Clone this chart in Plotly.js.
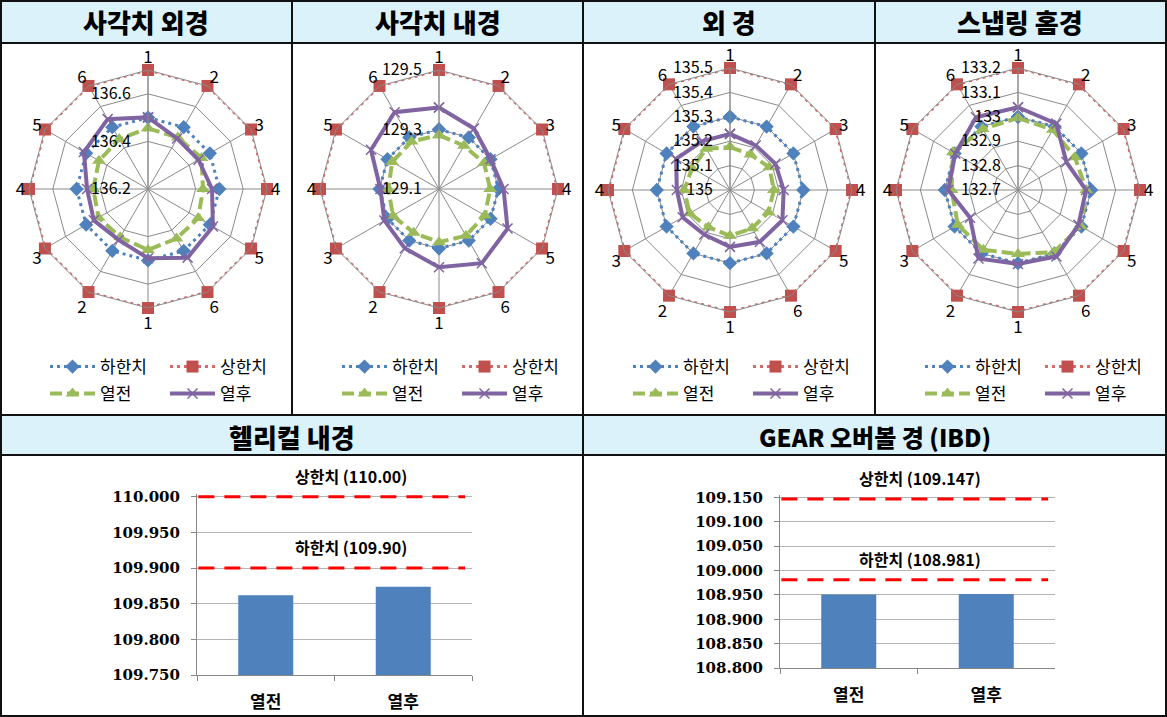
<!DOCTYPE html>
<html><head><meta charset="utf-8">
<script src="https://cdn.plot.ly/plotly-3.0.1.min.js"></script>
<style>body{margin:0;background:#fff}#chart{width:1167px;height:717px}</style>
</head><body><div id="chart"></div>
<script>
const W = 1167, H = 717;

// ---------- radar data ----------
const angleLabels = ['1','2','3','4','5','6','1','2','3','4','5','6'];
const seriesNames = ['하한치','상한치','열전','열후'];

const c1Title = '사각치 외경';
const c1Lower  = [136.5,136.5,136.5,136.5,136.5,136.5,136.5,136.5,136.5,136.5,136.5,136.5];
const c1Upper  = [136.7,136.7,136.7,136.7,136.7,136.7,136.7,136.7,136.7,136.7,136.7,136.7];
const c1Before = [136.455,136.450,136.460,136.431,136.444,136.440,136.456,136.434,136.440,136.430,136.438,136.442];
const c1After  = [136.501,136.445,136.445,136.469,136.515,136.533,136.491,136.447,136.463,136.456,136.511,136.539];
const c1Ticks  = [136.2,136.4,136.6];

const c2Title = '사각치 내경';
const c2Lower  = [129.3,129.3,129.3,129.3,129.3,129.3,129.3,129.3,129.3,129.3,129.3,129.3];
const c2Upper  = [129.5,129.5,129.5,129.5,129.5,129.5,129.5,129.5,129.5,129.5,129.5,129.5];
const c2Before = [129.281,129.268,129.275,129.272,129.278,129.281,129.279,129.270,129.279,129.270,129.282,129.284];
const c2After  = [129.374,129.335,129.300,129.317,129.366,129.388,129.363,129.330,129.312,129.297,129.364,129.398];
const c2Ticks  = [129.1,129.3,129.5];

const c3Title = '외 경';
const c3Lower  = [135.3,135.3,135.3,135.3,135.3,135.3,135.3,135.3,135.3,135.3,135.3,135.3];
const c3Upper  = [135.5,135.5,135.5,135.5,135.5,135.5,135.5,135.5,135.5,135.5,135.5,135.5];
const c3Before = [135.176,135.168,135.186,135.180,135.182,135.181,135.188,135.176,135.191,135.188,135.179,135.195];
const c3After  = [135.230,135.211,135.215,135.220,135.248,135.245,135.233,135.211,135.224,135.218,135.255,135.230];
const c3Ticks  = [135,135.1,135.2,135.3,135.4,135.5];

const c4Title = '스냅링 홈경';
const c4Lower  = [133.0,133.0,133.0,133.0,133.0,133.0,133.0,133.0,133.0,133.0,133.0,133.0];
const c4Upper  = [133.2,133.2,133.2,133.2,133.2,133.2,133.2,133.2,133.2,133.2,133.2,133.2];
const c4Before = [132.995,132.985,132.969,132.980,132.997,132.994,132.962,132.983,132.985,132.972,133.009,132.989];
const c4After  = [133.039,133.014,132.929,132.979,132.986,133.015,133.003,133.024,132.927,132.986,132.997,133.044];
const c4Ticks  = [132.7,132.8,132.9,133,133.1,133.2];

// ---------- bar data ----------
const barCats = ['열전','열후'];
const b1Title = '헬리컬 내경';
const b1Values = [109.862, 109.874];
const b1Upper = 110.00, b1Lower = 109.90;
const b1UpperLabel = '상한치 (110.00)', b1LowerLabel = '하한치 (109.90)';

const b2Title = 'GEAR 오버볼 경 (IBD)';
const b2Values = [108.951, 108.952];
const b2Upper = 109.147, b2Lower = 108.981;
const b2UpperLabel = '상한치 (109.147)', b2LowerLabel = '하한치 (108.981)';

// ---------- helpers ----------
const px = x => x / W;
const py = y => 1 - y / H;
const KR = 'Noto Sans CJK KR, Noto Sans, sans-serif';
const cats = angleLabels.map((l, i) => 'p' + i);
const closeRing = a => a.concat([a[0]]);

const COL = {lower:'#4F81BD', upper:'#C0504D', upperLine:'#D46A6A', before:'#9BBB59', after:'#8064A2'};

const data = [];
const layout = {
  width: W, height: H, margin:{l:0,r:0,t:0,b:0},
  paper_bgcolor:'#fff', plot_bgcolor:'#fff',
  font:{family:KR, color:'#000'},
  shapes:[], annotations:[]
};

function addRadar(k, cx, cy, R, cellLeft, lower, upper, before, after, ticks) {
  const sub = k === 1 ? 'polar' : 'polar' + k;
  const lg1 = (2*k-1) === 1 ? 'legend' : 'legend' + (2*k-1);
  const lg2 = 'legend' + (2*k);
  const th = closeRing(cats);
  const rows = [
    [lower, seriesNames[0], COL.lower, COL.lower, '3px,4px', 3, 'diamond', 11, lg1],
    [upper, seriesNames[1], COL.upperLine, COL.upper, '3px,4px', 3, 'square', 12, lg1],
    [before, seriesNames[2], COL.before, COL.before, '12px,5px', 4, 'triangle-up', 12, lg2],
    [after, seriesNames[3], COL.after, COL.after, 'solid', 4, 'x-thin-open', 10, lg2]
  ];
  rows.forEach(([vals, name, lcolor, mcolor, dash, lw, sym, ms, lg]) => {
    data.push({
      type:'scatterpolar', subplot: sub, r: closeRing(vals), theta: th, name: name,
      mode:'lines+markers', legend: lg, hoverinfo:'skip',
      line:{color: lcolor, width: lw, dash: dash},
      marker:{symbol: sym, size: ms, color: mcolor, line:{color: mcolor, width: sym.startsWith('x') ? 1.5 : 0}}
    });
  });
  layout[sub] = {
    domain:{x:[px(cx-R), px(cx+R)], y:[py(cy+R), py(cy-R)]},
    gridshape:'linear', bgcolor:'rgba(0,0,0,0)',
    angularaxis:{type:'category', categoryarray: cats, tickmode:'array', tickvals: cats, ticktext: angleLabels,
      direction:'clockwise', rotation:90, showline:true, linecolor:'#8a8a8a', linewidth:1,
      gridcolor:'#8a8a8a', gridwidth:1, ticks:'', tickfont:{size:17, color:'#000', family:KR}},
    radialaxis:{range:[ticks[0], upper[0]], tickmode:'array', tickvals: ticks, ticktext: ticks.map(String),
      angle:90, side:'counterclockwise', showline:true, linecolor:'#8a8a8a', gridcolor:'#8a8a8a', gridwidth:1,
      ticks:'outside', ticklen:11, tickcolor:'rgba(0,0,0,0)', tickangle:90,
      tickfont:{size:16, color:'#000', family:KR}}
  };
  const legBase = {orientation:'h', xanchor:'left', yanchor:'middle', bgcolor:'rgba(0,0,0,0)',
    font:{size:17, color:'#000', family:KR}, itemwidth:45, entrywidth:60, entrywidthmode:'pixels',
    itemclick:false, itemdoubleclick:false};
  layout[lg1] = Object.assign({}, legBase, {x: px(cellLeft + 45), y: py(367)});
  layout[lg2] = Object.assign({}, legBase, {x: px(cellLeft + 45), y: py(394)});
}

addRadar(1, 148, 189, 119, 0,   c1Lower, c1Upper, c1Before, c1After, c1Ticks);
addRadar(2, 439, 189, 119, 292, c2Lower, c2Upper, c2Before, c2After, c2Ticks);
addRadar(3, 730, 190, 122, 583, c3Lower, c3Upper, c3Before, c3After, c3Ticks);
addRadar(4, 1018, 190, 122, 875, c4Lower, c4Upper, c4Before, c4After, c4Ticks);

// ---------- bar charts ----------
const tickFont = {family:'DejaVu Serif, Noto Sans CJK KR, serif', size:15, color:'#000', weight:'bold'};
const catFont = {family:KR, size:17, color:'#000', weight:'bold'};
function addBar(idx, values, upperV, lowerV, upLabel, lowLabel, xDom, yDom, yRange, labelX) {
  const xa = idx === 1 ? 'xaxis' : 'xaxis' + idx, ya = idx === 1 ? 'yaxis' : 'yaxis' + idx;
  const xr = idx === 1 ? 'x' : 'x' + idx, yr = idx === 1 ? 'y' : 'y' + idx;
  data.push({type:'bar', x: barCats, y: values, xaxis: xr, yaxis: yr, showlegend:false,
    marker:{color:'#4F81BD'}, hoverinfo:'skip'});
  layout[xa] = {domain:[px(xDom[0]), px(xDom[1])], anchor: yr, type:'category', showline:true,
    linecolor:'#868686', linewidth:1, ticks:'outside', tickson:'boundaries', ticklen:5, tickcolor:'#868686',
    showgrid:false, tickfont: catFont, ticklabelstandoff:12, fixedrange:true};
  layout[ya] = {domain:[py(yDom[1]), py(yDom[0])], anchor: xr, range: yRange, tick0: yRange[0], dtick:0.05,
    tickformat:'.3f', showline:true, linecolor:'#868686', linewidth:1, ticks:'outside', ticklen:5,
    tickcolor:'#868686', gridcolor:'#b4b4b4', gridwidth:1, zeroline:false, tickfont: tickFont,
    ticklabelstandoff:8, fixedrange:true};
  [upperV, lowerV].forEach(v => layout.shapes.push({type:'line', xref: xr + ' domain', yref: yr,
    x0:0.005, x1:0.975, y0:v, y1:v, line:{color:'#FF0000', width:3, dash:'16px,10px'}}));
  [[upperV, upLabel],[lowerV, lowLabel]].forEach(([v, t]) => layout.annotations.push({
    xref: xr + ' domain', yref: yr, x: labelX, y: v, yshift: 21, text: t, showarrow:false,
    font:{family:KR, size:16, color:'#000', weight:'bold'}}));
  layout.bargap = 0.6;
}
addBar(1, b1Values, b1Upper, b1Lower, b1UpperLabel, b1LowerLabel, [197, 472], [494, 675], [109.75, 110.004], 0.56);
addBar(2, b2Values, b2Upper, b2Lower, b2UpperLabel, b2LowerLabel, [780, 1055], [495, 668], [108.8, 109.155], 0.51);

// ---------- frame, headers, titles ----------
const line = (x0, y0, x1, y1, w) => ({type:'line', xref:'paper', yref:'paper', x0:px(x0), y0:py(y0), x1:px(x1), y1:py(y1),
  line:{color:'#111', width: w || 2}, layer:'above'});
const fill = (x0, y0, x1, y1) => ({type:'rect', xref:'paper', yref:'paper', x0:px(x0), y0:py(y0), x1:px(x1), y1:py(y1),
  fillcolor:'#DCF2FA', line:{width:0}, layer:'below'});
layout.shapes.push(fill(1, 1, 1166, 43), fill(1, 415, 1166, 455));
layout.shapes.push(
  line(0, 1, 1167, 1), line(0, 716, 1167, 716), line(1, 0, 1, 717), line(1166, 0, 1166, 717),
  line(0, 43, 1167, 43), line(0, 415, 1167, 415), line(0, 455, 1167, 455),
  line(292, 0, 292, 415), line(583, 0, 583, 717), line(875, 0, 875, 415)
);
const titles = [[c1Title, 146, 22, 26], [c2Title, 438, 22, 26], [c3Title, 729, 22, 26], [c4Title, 1020, 22, 26],
  [b1Title, 292, 436, 26], [b2Title, 875, 436, 24]];
titles.forEach(([t, x, y, s]) => layout.annotations.push({xref:'paper', yref:'paper', x:px(x), y:py(y),
  xanchor:'center', yanchor:'middle', text:t, showarrow:false,
  font:{family:KR, size:s, color:'#000', weight:900}}));

Plotly.newPlot('chart', data, layout, {displayModeBar:false, staticPlot:true});
</script></body></html>
